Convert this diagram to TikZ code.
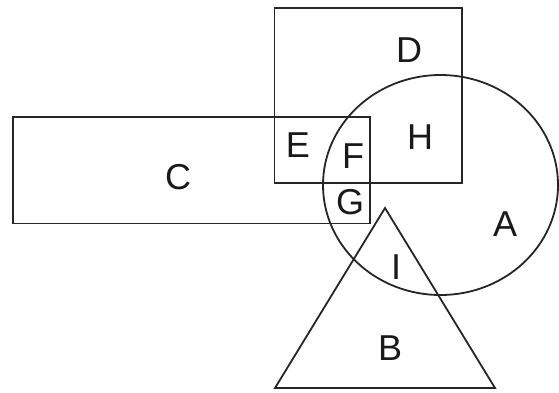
\documentclass[tikz,border=0pt]{standalone}
\usepackage{fontspec}
\setmainfont{Liberation Sans}
\begin{document}
\begin{tikzpicture}[x=1pt,y=-1pt,
  shape line/.style={draw=black!85, line width=1.8pt, line join=miter},
  lbl/.style={font=\fontsize{36}{40}\selectfont, text=black!90, inner sep=0pt}]
\useasboundingbox (0,0) rectangle (559,392);
% rectangle C
\draw[shape line] (13,117) rectangle (370,223.5);
% square D
\draw[shape line] (274.5,8) rectangle (462,183);
% circle A
\draw[shape line] (440.5,185) ellipse [x radius=117.5, y radius=110];
% triangle B
\draw[shape line] (385,208) -- (495,388) -- (275,388) -- cycle;
% labels
\node[lbl] (lD) at (409,50) {D};
\node[lbl] (lH) at (420,137) {H};
\node[lbl] (lE) at (298,145) {E};
\node[lbl] (lF) at (353,156) {F};
\node[lbl] (lG) at (350,202) {G};
\node[lbl] (lC) at (178,177) {C};
\node[lbl] (lA) at (505,224) {A};
\node[lbl] (lI) at (396,267) {I};
\node[lbl] (lB) at (390,348) {B};
\end{tikzpicture}
\end{document}
